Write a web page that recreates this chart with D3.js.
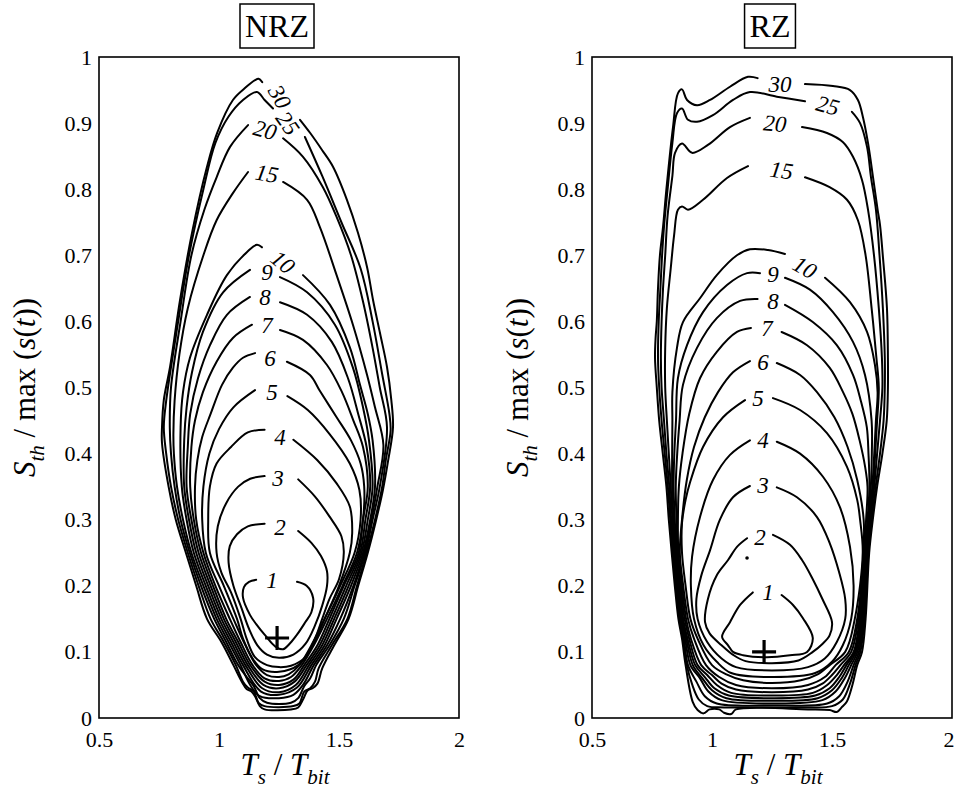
<!DOCTYPE html>
<html>
<head>
<meta charset="utf-8">
<script src="https://cdn.jsdelivr.net/npm/d3@7"></script>
<style>
  body { margin: 0; background: #fff; }
  svg { display: block; }
</style>
</head>
<body>
<svg id="chart" width="955" height="798"></svg>
<script>
// Axis ticks
const xTicks = [0.5, 1, 1.5, 2];
const yTicks = [0, 0.1, 0.2, 0.3, 0.4, 0.5, 0.6, 0.7, 0.8, 0.9, 1];

// Contour levels (both panels)
const levels = [1, 2, 3, 4, 5, 6, 7, 8, 9, 10, 15, 20, 25, 30];

// ---------- NRZ contours: [Ts/Tbit, Sth/max(s)] ----------
// each line runs from the right side of its label gap, round the bottom, back to the left side of the gap
const nrz1 = [[1.325,0.206],[1.365,0.200],[1.392,0.182],[1.385,0.160],[1.358,0.144],[1.325,0.126],[1.296,0.113],[1.267,0.104],[1.235,0.108],[1.19,0.126],[1.155,0.142],[1.129,0.156],[1.10,0.182],[1.104,0.198],[1.125,0.206],[1.155,0.209]];
const nrz2 = [[1.33,0.283],[1.385,0.265],[1.425,0.245],[1.45,0.222],[1.45,0.20],[1.43,0.17],[1.40,0.14],[1.36,0.112],[1.31,0.096],[1.25,0.091],[1.20,0.096],[1.16,0.11],[1.125,0.135],[1.095,0.165],[1.06,0.20],[1.04,0.235],[1.045,0.26],[1.075,0.278],[1.12,0.29],[1.19,0.294]];
const nrz3 = [[1.33,0.361],[1.40,0.335],[1.46,0.305],[1.51,0.275],[1.52,0.25],[1.50,0.21],[1.46,0.18],[1.43,0.15],[1.40,0.12],[1.36,0.092],[1.30,0.079],[1.25,0.077],[1.20,0.08],[1.15,0.092],[1.115,0.12],[1.09,0.15],[1.05,0.19],[1.01,0.22],[0.99,0.25],[0.995,0.29],[1.03,0.325],[1.08,0.35],[1.13,0.362],[1.19,0.366]];
const nrz4 = [[1.31,0.421],[1.41,0.39],[1.49,0.355],[1.545,0.32],[1.555,0.28],[1.545,0.25],[1.50,0.20],[1.44,0.15],[1.39,0.11],[1.33,0.08],[1.25,0.070],[1.18,0.074],[1.14,0.09],[1.10,0.12],[1.075,0.15],[1.02,0.2],[0.962,0.25],[0.955,0.30],[0.962,0.35],[0.99,0.385],[1.05,0.41],[1.12,0.432],[1.19,0.436]];
const nrz5 = [[1.285,0.487],[1.37,0.466],[1.46,0.43],[1.545,0.385],[1.585,0.345],[1.59,0.30],[1.565,0.25],[1.505,0.20],[1.44,0.15],[1.385,0.11],[1.335,0.08],[1.29,0.066],[1.25,0.062],[1.20,0.065],[1.155,0.08],[1.11,0.11],[1.06,0.15],[1.0,0.2],[0.945,0.25],[0.93,0.30],[0.935,0.35],[0.96,0.40],[1.0,0.437],[1.06,0.47],[1.15,0.496]];
const nrz6 = [[1.283,0.539],[1.379,0.519],[1.42,0.495],[1.49,0.455],[1.55,0.42],[1.59,0.385],[1.605,0.35],[1.60,0.30],[1.575,0.25],[1.515,0.2],[1.45,0.15],[1.395,0.11],[1.345,0.08],[1.30,0.062],[1.25,0.056],[1.19,0.06],[1.14,0.08],[1.09,0.115],[1.045,0.15],[0.985,0.2],[0.935,0.25],[0.905,0.3],[0.90,0.35],[0.91,0.39],[0.93,0.425],[0.965,0.46],[1.0125,0.504],[1.058,0.53],[1.10,0.545],[1.15,0.552]];
const nrz7 = [[1.254,0.587],[1.35,0.572],[1.45,0.534],[1.5125,0.493],[1.56,0.45],[1.60,0.41],[1.62,0.35],[1.60,0.30],[1.582,0.25],[1.52,0.2],[1.46,0.15],[1.41,0.11],[1.355,0.08],[1.31,0.058],[1.25,0.05],[1.19,0.055],[1.13,0.08],[1.08,0.115],[1.03,0.15],[0.975,0.2],[0.925,0.25],[0.895,0.3],[0.88,0.35],[0.885,0.41],[0.90,0.45],[0.933,0.493],[0.99,0.539],[1.058,0.575],[1.1375,0.595]];
const nrz8 = [[1.254,0.629],[1.367,0.61],[1.47,0.569],[1.5375,0.514],[1.58,0.46],[1.615,0.41],[1.63,0.35],[1.61,0.30],[1.588,0.25],[1.53,0.2],[1.47,0.15],[1.42,0.11],[1.365,0.08],[1.315,0.055],[1.25,0.045],[1.185,0.05],[1.12,0.08],[1.07,0.115],[1.02,0.15],[0.965,0.2],[0.915,0.25],[0.885,0.3],[0.865,0.35],[0.87,0.41],[0.88,0.46],[0.9125,0.514],[0.9625,0.564],[1.033,0.61],[1.129,0.637]];
const nrz9 = [[1.254,0.667],[1.367,0.644],[1.483,0.595],[1.558,0.53],[1.60,0.47],[1.625,0.42],[1.64,0.35],[1.62,0.30],[1.594,0.25],[1.54,0.2],[1.48,0.15],[1.43,0.11],[1.375,0.08],[1.32,0.05],[1.25,0.039],[1.18,0.045],[1.11,0.08],[1.06,0.115],[1.01,0.15],[0.955,0.2],[0.905,0.25],[0.875,0.3],[0.855,0.35],[0.855,0.42],[0.865,0.47],[0.8875,0.523],[0.933,0.584],[1.017,0.644],[1.129,0.678]];
const nrz10 = [[1.35,0.67],[1.4625,0.625],[1.546,0.56],[1.5875,0.504],[1.62,0.46],[1.64,0.42],[1.65,0.35],[1.63,0.30],[1.60,0.25],[1.55,0.2],[1.49,0.15],[1.44,0.11],[1.385,0.08],[1.325,0.046],[1.25,0.035],[1.175,0.04],[1.10,0.08],[1.05,0.115],[1.0,0.15],[0.945,0.2],[0.895,0.25],[0.865,0.3],[0.845,0.35],[0.84,0.44],[0.85,0.493],[0.879,0.545],[0.95,0.61],[1.033,0.67],[1.117,0.705],[1.158,0.716],[1.179,0.712]];
const nrz15 = [[1.267,0.811],[1.367,0.784],[1.42,0.743],[1.49,0.67],[1.558,0.595],[1.617,0.519],[1.65,0.47],[1.685,0.413],[1.66,0.35],[1.635,0.30],[1.605,0.25],[1.56,0.2],[1.505,0.15],[1.45,0.11],[1.395,0.08],[1.35,0.05],[1.31,0.035],[1.25,0.03],[1.17,0.033],[1.13,0.05],[1.09,0.08],[1.04,0.115],[0.99,0.15],[0.935,0.2],[0.885,0.25],[0.85,0.3],[0.825,0.35],[0.812,0.40],[0.81,0.43],[0.815,0.48],[0.835,0.55],[0.87,0.62],[0.935,0.70],[0.99,0.753],[1.058,0.794],[1.121,0.826]];
const nrz20 = [[1.267,0.877],[1.35,0.849],[1.433,0.803],[1.49,0.758],[1.55,0.70],[1.60,0.63],[1.64,0.56],[1.67,0.50],[1.70,0.44],[1.67,0.35],[1.64,0.30],[1.61,0.25],[1.565,0.2],[1.52,0.15],[1.46,0.11],[1.405,0.08],[1.38,0.06],[1.355,0.048],[1.33,0.03],[1.30,0.023],[1.20,0.023],[1.17,0.03],[1.145,0.048],[1.12,0.06],[1.08,0.08],[1.03,0.115],[0.98,0.15],[0.925,0.2],[0.878,0.25],[0.84,0.3],[0.815,0.35],[0.80,0.40],[0.795,0.44],[0.80,0.50],[0.84,0.60],[0.885,0.70],[0.94,0.77],[0.99,0.818],[1.046,0.864],[1.121,0.897]];
const nrz25 = [[1.358,0.879],[1.43,0.82],[1.51,0.75],[1.59,0.68],[1.64,0.60],[1.68,0.52],[1.71,0.46],[1.715,0.435],[1.695,0.39],[1.68,0.35],[1.65,0.30],[1.615,0.25],[1.575,0.2],[1.535,0.15],[1.47,0.11],[1.415,0.075],[1.40,0.055],[1.38,0.045],[1.355,0.04],[1.335,0.022],[1.31,0.018],[1.19,0.018],[1.165,0.023],[1.145,0.04],[1.12,0.046],[1.10,0.055],[1.07,0.08],[1.02,0.115],[0.965,0.15],[0.915,0.2],[0.87,0.25],[0.83,0.3],[0.80,0.35],[0.78,0.40],[0.77,0.44],[0.78,0.48],[0.83,0.60],[0.875,0.70],[0.935,0.80],[0.985,0.87],[1.04,0.91],[1.10,0.935],[1.158,0.947],[1.19,0.935],[1.225,0.922]];
const nrz30 = [[1.3375,0.905],[1.38,0.885],[1.43,0.859],[1.475,0.834],[1.533,0.784],[1.579,0.734],[1.617,0.682],[1.642,0.632],[1.671,0.582],[1.70,0.531],[1.718,0.481],[1.725,0.44],[1.705,0.39],[1.683,0.345],[1.655,0.30],[1.62,0.25],[1.58,0.2],[1.54,0.15],[1.48,0.11],[1.43,0.075],[1.41,0.052],[1.39,0.045],[1.37,0.042],[1.35,0.028],[1.33,0.016],[1.30,0.013],[1.19,0.013],[1.17,0.018],[1.15,0.033],[1.135,0.04],[1.115,0.044],[1.095,0.055],[1.06,0.08],[1.01,0.115],[0.95,0.15],[0.905,0.2],[0.862,0.25],[0.82,0.3],[0.79,0.35],[0.7625,0.416],[0.7625,0.44],[0.77,0.481],[0.796,0.531],[0.8375,0.632],[0.8875,0.734],[0.95,0.834],[0.992,0.885],[1.058,0.935],[1.108,0.953],[1.15,0.965],[1.165,0.967],[1.18,0.962]];

const nrzLabelAt = [[1.221,0.209],[1.254,0.289],[1.246,0.363],[1.254,0.425],[1.221,0.494],[1.2125,0.545],[1.2,0.595],[1.192,0.637],[1.2,0.675],[1.267,0.69],[1.2,0.824],[1.192,0.89],[1.2875,0.90],[1.254,0.94]];
const nrzLabelAngle = [0, 0, 0, 0, 0, 0, 0, 0, 0, 40, 10, 15, 55, 60];
const nrzOptimum = [1.242, 0.121];

// ---------- RZ contours ----------
const rz1 = [[1.29,0.186],[1.3375,0.171],[1.379,0.151],[1.42,0.121],[1.396,0.10],[1.325,0.095],[1.229,0.092],[1.129,0.095],[1.0875,0.10],[1.067,0.11],[1.042,0.123],[1.075,0.145],[1.117,0.171],[1.17,0.19]];
const rz2 = [[1.254,0.277],[1.325,0.262],[1.375,0.239],[1.42,0.21],[1.46,0.18],[1.50,0.145],[1.49,0.125],[1.46,0.112],[1.42,0.10],[1.36,0.087],[1.25,0.083],[1.14,0.086],[1.09,0.095],[1.04,0.11],[0.99,0.128],[0.971,0.145],[0.983,0.18],[1.02,0.216],[1.067,0.239],[1.104,0.259],[1.146,0.272]];
const rz3 = [[1.27,0.349],[1.354,0.334],[1.4375,0.304],[1.49,0.265],[1.53,0.22],[1.555,0.18],[1.555,0.15],[1.52,0.115],[1.47,0.09],[1.40,0.077],[1.25,0.072],[1.10,0.077],[1.04,0.09],[0.98,0.115],[0.94,0.15],[0.935,0.18],[0.955,0.215],[0.992,0.254],[1.033,0.30],[1.0875,0.334],[1.158,0.351]];
const rz4 = [[1.27,0.418],[1.367,0.40],[1.4625,0.365],[1.533,0.319],[1.575,0.259],[1.59,0.20],[1.58,0.15],[1.545,0.11],[1.50,0.085],[1.43,0.068],[1.25,0.062],[1.08,0.068],[1.02,0.085],[0.965,0.11],[0.925,0.15],[0.912,0.20],[0.917,0.244],[0.95,0.304],[1.004,0.36],[1.075,0.398],[1.158,0.42]];
const rz5 = [[1.254,0.484],[1.367,0.466],[1.479,0.431],[1.5625,0.38],[1.605,0.33],[1.617,0.30],[1.628,0.25],[1.595,0.15],[1.555,0.10],[1.49,0.08],[1.44,0.066],[1.37,0.057],[1.25,0.053],[1.13,0.057],[1.06,0.066],[1.0,0.08],[0.94,0.12],[0.91,0.15],[0.89,0.20],[0.875,0.25],[0.875,0.295],[0.89,0.33],[0.908,0.356],[0.9625,0.41],[1.046,0.455],[1.1375,0.481]];
const rz6 = [[1.27,0.537],[1.367,0.519],[1.4375,0.493],[1.51,0.455],[1.565,0.41],[1.605,0.36],[1.632,0.30],[1.631,0.25],[1.605,0.15],[1.57,0.10],[1.515,0.08],[1.47,0.062],[1.40,0.05],[1.25,0.045],[1.10,0.05],[1.03,0.062],[0.975,0.08],[0.925,0.12],[0.90,0.15],[0.88,0.20],[0.866,0.25],[0.875,0.30],[0.895,0.36],[0.925,0.41],[0.97,0.455],[1.025,0.493],[1.0875,0.523],[1.158,0.54]];
const rz7 = [[1.29,0.584],[1.396,0.564],[1.49,0.53],[1.546,0.493],[1.585,0.46],[1.615,0.42],[1.638,0.38],[1.648,0.35],[1.642,0.30],[1.634,0.25],[1.61,0.15],[1.58,0.10],[1.535,0.08],[1.50,0.065],[1.46,0.052],[1.40,0.043],[1.25,0.039],[1.10,0.043],[1.04,0.052],[1.0,0.065],[0.955,0.08],[0.912,0.12],[0.892,0.15],[0.875,0.20],[0.86,0.25],[0.858,0.30],[0.862,0.35],[0.877,0.40],[0.905,0.46],[0.95,0.514],[1.02,0.554],[1.104,0.584],[1.1625,0.59]];
const rz8 = [[1.304,0.625],[1.42,0.599],[1.52,0.564],[1.5875,0.519],[1.62,0.48],[1.645,0.44],[1.652,0.40],[1.656,0.35],[1.648,0.30],[1.637,0.25],[1.615,0.15],[1.59,0.10],[1.55,0.08],[1.52,0.065],[1.48,0.05],[1.42,0.038],[1.25,0.034],[1.08,0.038],[1.02,0.05],[0.98,0.065],[0.94,0.08],[0.905,0.12],[0.886,0.15],[0.87,0.20],[0.856,0.25],[0.852,0.30],[0.849,0.35],[0.855,0.40],[0.865,0.45],[0.879,0.504],[0.9375,0.56],[1.02,0.605],[1.117,0.631],[1.19,0.634]];
const rz9 = [[1.304,0.666],[1.408,0.648],[1.504,0.614],[1.5875,0.569],[1.6375,0.519],[1.665,0.45],[1.666,0.40],[1.662,0.35],[1.652,0.30],[1.64,0.25],[1.62,0.15],[1.595,0.10],[1.56,0.08],[1.53,0.062],[1.49,0.045],[1.43,0.034],[1.25,0.030],[1.07,0.034],[1.01,0.045],[0.97,0.062],[0.93,0.08],[0.898,0.12],[0.88,0.15],[0.866,0.20],[0.852,0.25],[0.845,0.30],[0.84,0.35],[0.843,0.40],[0.85,0.45],[0.858,0.514],[0.896,0.564],[0.9625,0.614],[1.0625,0.655],[1.146,0.673],[1.2,0.673]];
const rz10 = [[1.471,0.666],[1.575,0.629],[1.646,0.584],[1.679,0.534],[1.69,0.493],[1.683,0.45],[1.676,0.40],[1.668,0.35],[1.655,0.30],[1.643,0.25],[1.624,0.15],[1.60,0.10],[1.57,0.08],[1.54,0.06],[1.50,0.042],[1.44,0.03],[1.25,0.026],[1.06,0.03],[1.0,0.042],[0.96,0.06],[0.92,0.08],[0.893,0.12],[0.876,0.15],[0.862,0.20],[0.848,0.25],[0.84,0.30],[0.834,0.35],[0.834,0.40],[0.835,0.45],[0.835,0.493],[0.854,0.56],[0.879,0.599],[0.95,0.635],[1.02,0.67],[1.104,0.70],[1.158,0.709],[1.233,0.708],[1.304,0.702]];
const rz15 = [[1.3875,0.818],[1.49,0.803],[1.5625,0.784],[1.608,0.753],[1.64,0.70],[1.665,0.62],[1.685,0.545],[1.695,0.50],[1.688,0.45],[1.68,0.40],[1.672,0.35],[1.656,0.30],[1.646,0.25],[1.628,0.15],[1.606,0.10],[1.58,0.08],[1.553,0.06],[1.515,0.04],[1.46,0.027],[1.25,0.022],[1.04,0.027],[0.985,0.04],[0.95,0.06],[0.91,0.08],[0.888,0.12],[0.872,0.15],[0.858,0.20],[0.844,0.25],[0.835,0.30],[0.828,0.35],[0.82,0.40],[0.812,0.45],[0.805,0.50],[0.805,0.56],[0.812,0.62],[0.828,0.68],[0.842,0.73],[0.858,0.769],[0.875,0.774],[0.90,0.769],[0.9625,0.784],[1.0625,0.817],[1.15,0.835]];
const rz20 = [[1.375,0.894],[1.479,0.885],[1.546,0.871],[1.5875,0.849],[1.625,0.814],[1.65,0.769],[1.675,0.70],[1.695,0.62],[1.708,0.545],[1.71,0.50],[1.70,0.45],[1.688,0.40],[1.676,0.35],[1.66,0.30],[1.649,0.25],[1.632,0.15],[1.612,0.10],[1.59,0.08],[1.565,0.055],[1.53,0.033],[1.48,0.022],[1.25,0.019],[1.02,0.022],[0.97,0.033],[0.935,0.055],[0.90,0.08],[0.883,0.12],[0.868,0.15],[0.854,0.20],[0.84,0.25],[0.83,0.30],[0.822,0.35],[0.81,0.40],[0.80,0.45],[0.79,0.50],[0.787,0.545],[0.79,0.60],[0.796,0.65],[0.805,0.70],[0.815,0.76],[0.835,0.82],[0.846,0.855],[0.875,0.869],[0.917,0.855],[0.983,0.867],[1.075,0.894],[1.158,0.908]];
const rz25 = [[1.583,0.917],[1.617,0.90],[1.646,0.864],[1.6625,0.818],[1.683,0.769],[1.698,0.70],[1.712,0.62],[1.72,0.545],[1.72,0.50],[1.715,0.45],[1.70,0.40],[1.682,0.35],[1.665,0.30],[1.652,0.25],[1.636,0.15],[1.618,0.10],[1.598,0.08],[1.575,0.052],[1.545,0.028],[1.50,0.018],[1.40,0.016],[1.25,0.016],[1.05,0.016],[0.98,0.018],[0.945,0.028],[0.918,0.05],[0.895,0.08],[0.878,0.12],[0.864,0.15],[0.85,0.20],[0.836,0.25],[0.826,0.30],[0.816,0.35],[0.803,0.40],[0.79,0.45],[0.78,0.50],[0.775,0.545],[0.778,0.60],[0.785,0.65],[0.792,0.70],[0.80,0.743],[0.815,0.80],[0.835,0.87],[0.854,0.915],[0.875,0.922],[0.90,0.905],[0.9375,0.902],[1.004,0.912],[1.0875,0.935],[1.158,0.947],[1.27,0.94],[1.3875,0.933]];
const rz30 = [[1.3875,0.959],[1.504,0.956],[1.575,0.95],[1.608,0.935],[1.629,0.909],[1.65,0.87],[1.671,0.818],[1.69,0.769],[1.70,0.746],[1.7125,0.696],[1.729,0.62],[1.733,0.545],[1.733,0.50],[1.728,0.45],[1.71,0.40],[1.688,0.35],[1.67,0.30],[1.655,0.25],[1.64,0.15],[1.625,0.10],[1.605,0.08],[1.585,0.05],[1.562,0.025],[1.54,0.016],[1.52,0.009],[1.49,0.012],[1.40,0.013],[1.10,0.013],[1.08,0.006],[1.05,0.008],[1.03,0.013],[0.99,0.013],[0.965,0.007],[0.94,0.012],[0.92,0.024],[0.89,0.08],[0.875,0.12],[0.86,0.15],[0.845,0.20],[0.832,0.25],[0.82,0.30],[0.81,0.35],[0.795,0.40],[0.78,0.45],[0.77,0.50],[0.7625,0.545],[0.765,0.575],[0.77,0.60],[0.775,0.65],[0.783,0.70],[0.796,0.743],[0.81,0.80],[0.8375,0.894],[0.858,0.945],[0.875,0.951],[0.896,0.935],[0.9375,0.927],[0.992,0.935],[1.075,0.955],[1.15,0.97],[1.19,0.968]];

const rzLabelAt = [[1.233,0.19],[1.2,0.274],[1.2125,0.352],[1.2125,0.42],[1.192,0.484],[1.2125,0.539],[1.229,0.59],[1.254,0.631],[1.254,0.672],[1.3875,0.682],[1.29,0.829],[1.2625,0.90],[1.483,0.927],[1.283,0.96]];
const rzLabelAngle = [0, 0, 0, 0, 0, 0, 0, 0, 0, 30, 8, 5, 15, 0];
const rzOptimum = [1.217, 0.10];
const rzIsland = [1.146, 0.242];

// ---------- drawing ----------
const serif = '"Liberation Serif", "Times New Roman", serif';
const svg = d3.select("#chart");
svg.append("rect").attr("width", 955).attr("height", 798).attr("fill", "#fff");

const plotTop = 57, plotBottom = 718, plotWidth = 360;
const y = d3.scaleLinear().domain([0, 1]).range([plotBottom, plotTop]);

const panels = [
  { title: "NRZ", left: 99,  contours: [nrz1,nrz2,nrz3,nrz4,nrz5,nrz6,nrz7,nrz8,nrz9,nrz10,nrz15,nrz20,nrz25,nrz30],
    labelAt: nrzLabelAt, labelAngle: nrzLabelAngle, optimum: nrzOptimum, islands: [] },
  { title: "RZ",  left: 592, contours: [rz1,rz2,rz3,rz4,rz5,rz6,rz7,rz8,rz9,rz10,rz15,rz20,rz25,rz30],
    labelAt: rzLabelAt, labelAngle: rzLabelAngle, optimum: rzOptimum, islands: [rzIsland] }
];

panels.forEach(p => {
  const x = d3.scaleLinear().domain([0.5, 2]).range([p.left, p.left + plotWidth]);
  const g = svg.append("g");
  const cx = p.left + plotWidth / 2;

  // contour lines
  const line = d3.line()
    .x(d => x(d[0])).y(d => y(d[1]))
    .curve(d3.curveCatmullRom.alpha(0.5));
  g.selectAll("path.contour").data(p.contours).join("path")
    .attr("class", "contour")
    .attr("d", line)
    .attr("fill", "none")
    .attr("stroke", "#000")
    .attr("stroke-width", 2)
    .attr("stroke-linejoin", "round")
    .attr("stroke-linecap", "round");

  // small closed island
  g.selectAll("circle.island").data(p.islands).join("circle")
    .attr("class", "island")
    .attr("cx", d => x(d[0])).attr("cy", d => y(d[1])).attr("r", 1.8)
    .attr("fill", "#000");

  // contour labels
  g.selectAll("text.clabel").data(levels).join("text")
    .attr("class", "clabel")
    .attr("transform", (d, i) => `translate(${x(p.labelAt[i][0])},${y(p.labelAt[i][1])}) rotate(${p.labelAngle[i]})`)
    .attr("text-anchor", "middle")
    .attr("dy", "0.35em")
    .style("font-family", serif)
    .style("font-style", "italic")
    .style("font-size", "23px")
    .text(d => d);

  // optimum marker
  const ox = x(p.optimum[0]), oy = y(p.optimum[1]);
  g.append("path")
    .attr("d", `M${ox - 12},${oy}H${ox + 12}M${ox},${oy - 12}V${oy + 12}`)
    .attr("stroke", "#000").attr("stroke-width", 3.2).attr("fill", "none");

  // frame
  g.append("rect")
    .attr("x", p.left).attr("y", plotTop)
    .attr("width", plotWidth).attr("height", plotBottom - plotTop)
    .attr("fill", "none").attr("stroke", "#000").attr("stroke-width", 1.6);

  // axes
  const fmt = d3.format("~g");
  const xa = g.append("g").attr("transform", `translate(0,${plotBottom})`)
    .call(d3.axisBottom(x).tickValues(xTicks).tickFormat(fmt).tickSize(0).tickPadding(13));
  const ya = g.append("g").attr("transform", `translate(${p.left},0)`)
    .call(d3.axisLeft(y).tickValues(yTicks).tickFormat(fmt).tickSize(0).tickPadding(7));
  [xa, ya].forEach(a => {
    a.select(".domain").remove();
    a.attr("font-family", serif).attr("font-size", 22);
    a.selectAll("text").attr("fill", "#000");
  });
  // keep the last x tick label inside the page
  xa.selectAll(".tick text").filter(d => x(d) + 8 > 955)
    .attr("text-anchor", "end").attr("x", d => 954 - x(d));

  // x axis title: Ts / Tbit
  const xt = g.append("text")
    .attr("x", cx + 6).attr("y", 775)
    .attr("text-anchor", "middle")
    .style("font-family", serif).style("font-size", "31px");
  xt.append("tspan").style("font-style", "italic").text("T");
  xt.append("tspan").style("font-style", "italic").style("font-size", "21px").attr("dy", 9).text("s");
  xt.append("tspan").attr("dy", -9).text(" / ");
  xt.append("tspan").style("font-style", "italic").text("T");
  xt.append("tspan").style("font-style", "italic").style("font-size", "21px").attr("dy", 9).text("bit");

  // y axis title: Sth / max (s(t))
  const yt = g.append("text")
    .attr("transform", `translate(${p.left - 64},${(plotTop + plotBottom) / 2}) rotate(-90)`)
    .attr("text-anchor", "middle")
    .style("font-family", serif).style("font-size", "31px");
  yt.append("tspan").style("font-style", "italic").text("S");
  yt.append("tspan").style("font-style", "italic").style("font-size", "21px").attr("dy", 9).text("th");
  yt.append("tspan").attr("dy", -9).text(" / max (");
  yt.append("tspan").style("font-style", "italic").text("s");
  yt.append("tspan").text("(");
  yt.append("tspan").style("font-style", "italic").text("t");
  yt.append("tspan").text("))");

  // boxed panel title
  const box = g.append("rect")
    .attr("fill", "#fff").attr("stroke", "#000").attr("stroke-width", 1.5);
  const tt = g.append("text")
    .attr("x", cx - 2).attr("y", 37)
    .attr("text-anchor", "middle")
    .style("font-family", serif).style("font-size", "32px")
    .text(p.title);
  const bb = tt.node().getBBox();
  box.attr("x", bb.x - 5).attr("y", 4)
    .attr("width", bb.width + 10).attr("height", 44);
});
</script>
</body>
</html>
